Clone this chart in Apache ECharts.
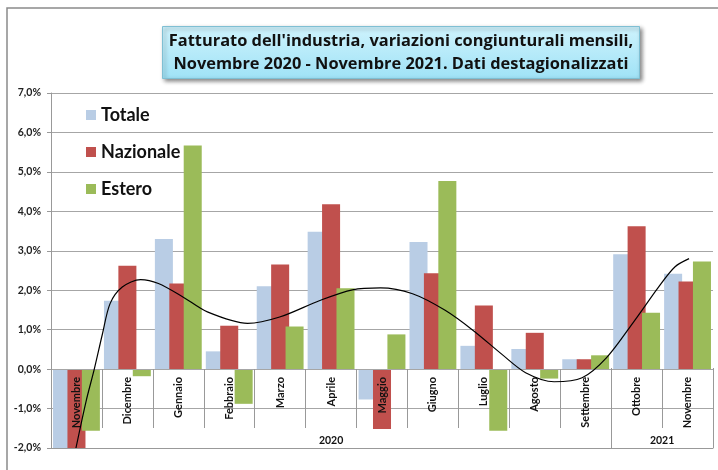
<!DOCTYPE html>
<html>
<head>
<meta charset="utf-8">
<script src="https://cdn.jsdelivr.net/npm/echarts@6/dist/echarts.min.js"></script>
<style>
html,body{margin:0;padding:0;background:#fff}
#chart{width:718px;height:470px}
</style>
</head>
<body>
<div id="chart"></div>
<script>
var categories = ['Novembre','Dicembre','Gennaio','Febbraio','Marzo','Aprile','Maggio','Giugno','Luglio','Agosto','Settembre','Ottobre','Novembre'];
var totale    = [-2.3, 1.73, 3.30, 0.45, 2.10, 3.48, -0.77, 3.22, 0.59, 0.51, 0.25, 2.91, 2.42];
var nazionale = [-3.0, 2.62, 2.17, 1.10, 2.65, 4.18, -1.52, 2.43, 1.61, 0.92, 0.25, 3.62, 2.22];
var estero    = [-1.56, -0.18, 5.67, -0.88, 1.08, 2.05, 0.88, 4.77, -1.56, -0.24, 0.35, 1.43, 2.73];
// trend curve as drawn in the picture: position in months (0..13) and value
var trendX = [0.49, 0.69, 0.85, 1.01, 1.16, 1.40, 1.76, 2.11, 2.59, 3.07, 3.86, 4.49, 5.28, 5.92, 6.47, 7.10, 7.74, 8.29, 8.85, 9.32, 9.88, 10.43, 10.91, 11.46, 11.93, 12.25, 12.53];
var trendY = [-2.0, -0.81, 0.0, 0.89, 1.66, 2.08, 2.27, 2.17, 1.83, 1.45, 1.16, 1.32, 1.74, 2.01, 2.06, 1.91, 1.49, 0.98, 0.38, -0.09, -0.32, -0.22, 0.29, 1.23, 2.08, 2.59, 2.80];
var yearLabels = ['2020', '2021'];
var yearCenters = [5.5, 12];
var yearBounds = [11, 13];

var font = 'Lato, "Open Sans", sans-serif';
var chart = echarts.init(document.getElementById('chart'));

function pct(v) {
  return v.toFixed(1).replace('.', ',') + '%';
}

var trend = trendX.map(function (x, i) { return [x, trendY[i]]; });

var option = {
  animation: false,
  backgroundColor: '#fff',
  textStyle: { fontFamily: font },
  title: {
    text: "Fatturato dell'industria, variazioni congiunturali mensili,\nNovembre 2020 - Novembre 2021. Dati destagionalizzati",
    left: 394,
    top: 26,
    textAlign: 'center',
    padding: [4, 7, 3, 7],
    backgroundColor: new echarts.graphic.LinearGradient(0, 0, 0, 1, [
      { offset: 0, color: '#cff3fd' },
      { offset: 1, color: '#9fe2f6' }
    ]),
    borderColor: '#7fbfd3',
    borderWidth: 1,
    shadowBlur: 4,
    shadowColor: 'rgba(0,0,0,0.45)',
    shadowOffsetX: 2,
    shadowOffsetY: 2,
    textStyle: {
      fontFamily: '"Open Sans", Lato, sans-serif',
      fontWeight: 'bold',
      fontSize: 16.4,
      lineHeight: 23,
      color: '#111'
    }
  },
  legend: {
    data: ['Totale', 'Nazionale', 'Estero'],
    orient: 'vertical',
    left: 81,
    top: 100,
    itemWidth: 10,
    itemHeight: 10,
    itemGap: 17,
    icon: 'rect',
    textStyle: { fontFamily: font, fontWeight: 'bold', fontSize: 18, lineHeight: 20, color: '#111' }
  },
  graphic: [{
    type: 'rect',
    z: -10,
    shape: { x: 7, y: 8, width: 760, height: 520 },
    style: { fill: 'none', stroke: '#8a8a8a', lineWidth: 1.5 }
  }],
  grid: { left: 51, right: 5, top: 93, bottom: 22, outerBoundsMode: 'none' },
  xAxis: [{
    type: 'category',
    data: categories,
    position: 'bottom',
    offset: -79,
    z: 3,
    axisLine: { onZero: false, lineStyle: { color: '#a6a6a6', width: 1 } },
    axisTick: { show: true, interval: 0, length: 59, lineStyle: { color: '#999' } },
    axisLabel: {
      interval: 0, rotate: 90, margin: 8, showMinLabel: true, showMaxLabel: true, hideOverlap: false,
      fontFamily: font, fontWeight: 'bold', fontSize: 11, color: '#111'
    },
    splitLine: { show: false }
  }, {
    type: 'value',
    min: 0,
    max: 13,
    position: 'top',
    offset: -355,
    axisLine: { show: true, onZero: false, lineStyle: { color: '#999', width: 1 } },
    axisTick: { show: true, customValues: yearBounds, length: 80, lineStyle: { color: '#999' } },
    axisLabel: {
      customValues: yearCenters,
      margin: 2,
      formatter: function (v) { return v < 11 ? yearLabels[0] : yearLabels[1]; },
      fontFamily: font, fontWeight: 'bold', fontSize: 10.5, color: '#111'
    },
    splitLine: { show: false }
  }],
  yAxis: {
    type: 'value',
    min: -2,
    max: 7,
    interval: 1,
    axisLine: { show: true, lineStyle: { color: '#999' } },
    axisTick: { show: true, length: 4, lineStyle: { color: '#999' } },
    axisLabel: {
      margin: 10, formatter: pct, showMinLabel: true, showMaxLabel: true,
      fontFamily: font, fontWeight: 'bold', fontSize: 10.5, color: '#222'
    },
    splitLine: { show: true, lineStyle: { color: '#a6a6a6', width: 1 } }
  },
  series: [{
    name: 'Totale', type: 'bar', data: totale,
    barCategoryGap: '8%', barGap: '-20%', clip: true,
    itemStyle: { color: '#b9cde5' }
  }, {
    name: 'Nazionale', type: 'bar', data: nazionale,
    barCategoryGap: '8%', barGap: '-20%', clip: true,
    itemStyle: { color: '#c0504d' }
  }, {
    name: 'Estero', type: 'bar', data: estero,
    barCategoryGap: '8%', barGap: '-20%', clip: true,
    itemStyle: { color: '#9bbb59' }
  }, {
    name: 'Tendenza', type: 'line', data: trend, xAxisIndex: 1,
    smooth: 0.3, symbol: 'none', z: 5,
    lineStyle: { color: '#000', width: 1.2 }
  }]
};

chart.setOption(option);
</script>
</body>
</html>
